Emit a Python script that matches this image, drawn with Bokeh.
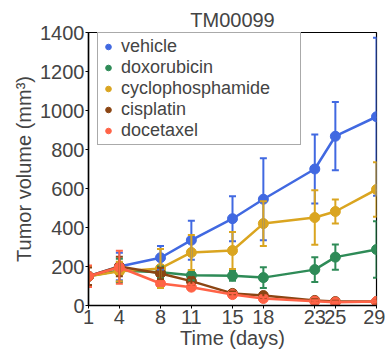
from bokeh.plotting import figure
from bokeh.models import ColumnDataSource, Whisker, FixedTicker, Legend, LegendItem, TeeHead
from bokeh.embed import file_html
from bokeh.resources import INLINE

days = [1, 4, 8, 11, 15, 18, 23, 25, 29]
series_names = ["vehicle", "doxorubicin", "cyclophosphamide", "cisplatin", "docetaxel"]
vehicle = [150, 200, 245, 335, 445, 545, 700, 868, 968]
vehicle_err = [50, 70, 60, 100, 115, 210, 177, 175, 405]
doxorubicin = [150, 180, 170, 155, 152, 143, 184, 248, 287]
doxorubicin_err = [50, 60, 30, 25, 25, 53, 64, 65, 145]
cyclophosphamide = [150, 175, 190, 272, 282, 420, 451, 482, 595]
cyclophosphamide_err = [50, 50, 100, 90, 95, 115, 140, 62, 140]
cisplatin = [150, 200, 164, 125, 62, 51, 26, 20, 20]
cisplatin_err = [45, 50, 30, 20, 10, 12, 6, 5, 5]
docetaxel = [150, 196, 113, 94, 56, 36, 22, 17, 20]
docetaxel_err = [55, 85, 12, 12, 8, 6, 5, 4, 4]
colors = ["#4169E1", "#2E8B57", "#DAA520", "#8B4513", "#FF6347"]
y_ticks = [0, 200, 400, 600, 800, 1000, 1200, 1400]

values = [vehicle, doxorubicin, cyclophosphamide, cisplatin, docetaxel]
errors = [vehicle_err, doxorubicin_err, cyclophosphamide_err, cisplatin_err, docetaxel_err]

FONT = "Liberation Sans"

p = figure(frame_width=288, frame_height=273, output_backend="svg", toolbar_location=None,
           x_range=(1, 29), y_range=(0, 1400),
           min_border_left=88, min_border_right=9, min_border_top=32, min_border_bottom=46)

p.title.text = "TM00099"
p.title.align = "center"
p.title.text_font = FONT
p.title.text_font_size = "20px"
p.title.text_font_style = "normal"
p.title.offset = 0
p.title.standoff = 3

p.xgrid.visible = False
p.ygrid.visible = False
p.outline_line_color = "black"
p.outline_line_width = 1.2
p.background_fill_color = "white"

p.xaxis.ticker = FixedTicker(ticks=days)
p.yaxis.ticker = FixedTicker(ticks=y_ticks)
for ax in (p.xaxis[0], p.yaxis[0]):
    ax.major_label_text_font = FONT
    ax.major_label_text_font_size = "20px"
    ax.axis_label_text_font = FONT
    ax.axis_label_text_font_size = "20px"
    ax.axis_label_text_font_style = "normal"
    ax.axis_line_color = "black"
    ax.axis_line_width = 1.5
    ax.major_tick_in = 0
    ax.major_tick_out = 3
    ax.minor_tick_line_color = None
    ax.major_label_standoff = 1
p.xaxis.axis_label = "Time (days)"
p.yaxis.axis_label = "Tumor volume (mm³)"
p.xaxis.axis_label_standoff = 0
p.yaxis.axis_label_standoff = 2

items = []
for name, vals, errs, col in zip(series_names, values, errors, colors):
    src = ColumnDataSource(dict(x=days, y=vals,
                                lo=[v - e for v, e in zip(vals, errs)],
                                hi=[v + e for v, e in zip(vals, errs)]))
    w = Whisker(source=src, base="x", upper="hi", lower="lo",
                line_color=col, line_width=2,
                upper_head=TeeHead(size=7, line_color=col, line_width=2),
                lower_head=TeeHead(size=7, line_color=col, line_width=2),
                level="glyph")
    p.add_layout(w)
    p.line("x", "y", source=src, line_color=col, line_width=2.5)
    r = p.scatter("x", "y", source=src, size=10, fill_color=col, line_color=col)
    items.append(LegendItem(label=name, renderers=[r]))

legend = Legend(items=items, location=(9, 160))
legend.label_text_font = FONT
legend.label_text_font_size = "18px"
legend.label_standoff = 6
legend.label_width = 176
legend.glyph_width = 14
legend.glyph_height = 19
legend.label_height = 19
legend.spacing = 0
legend.padding = 3
legend.margin = 0
legend.border_line_color = "#555555"
legend.border_line_width = 1.2
legend.background_fill_alpha = 1
p.add_layout(legend)

open("out.html", "w").write(file_html(p, INLINE))
